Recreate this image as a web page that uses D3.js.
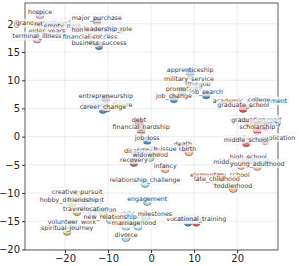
<!DOCTYPE html>
<html><head><meta charset="utf-8">
<script src="https://cdn.jsdelivr.net/npm/d3@7"></script>
<style>body{margin:0;background:#fff}svg{display:block}</style>
</head><body><svg id="c" width="299" height="266"></svg>
<script>
const labels = ["hospice","grandparenthood","retirement","empty_nest","elder_years","terminal_illness","death",
"major_purchase","inheritance","home_ownership","financial_success","debt","financial_hardship","health_issue","disability","recovery","business_failure",
"leadership_role","business_success","entrepreneurship","career_change","apprenticeship","first_job","promotion","job_search","job_change","job_loss","study_abroad","internship",
"military_service","creative_pursuit","hobby_development","traveling","vacation","volunteer_work","spiritual_journey",
"academic_achievement","college","graduate_school","graduation","university","scholarship","college_application","middle_school","high_school","elementary_school","vocational_training",
"birth","infancy","middle_childhood","young_adulthood","late_childhood","toddlerhood",
"widowhood","relationship_challenge","engagement","child_milestones","parenthood","marriage","divorce","friendship","relocation","new_relationship"];
const xs = [-25.8,-25.1,-23.3,-20.7,-24.2,-26.5,7.4,
-12.6,-14.2,-12.3,-14.2,-2.8,-2.3,1.4,-3.0,-4.0,-10.2,
-10.0,-12.1,-10.5,-11.2,9.1,10.9,7.2,12.8,5.3,-0.9,25.3,8.6,
8.8,-17.2,-18.4,-17.2,-11.2,-18.4,-19.5,
23.0,25.1,21.4,22.6,26.6,24.7,26.5,22.1,22.6,16.0,10.5,
8.8,3.3,20.9,24.7,15.3,19.1,
-0.2,-1.4,-0.9,-1.2,-3.0,-5.8,-5.8,-15.8,-13.5,-9.5];
const ys = [21.6,19.6,19.5,19.1,18.2,17.3,-1.9,
20.5,18.8,18.4,17.2,2.5,1.1,-2.7,-3.0,-4.6,5.1,
18.6,16.1,6.7,4.8,11.3,8.8,8.0,7.4,6.7,-0.7,2.5,-15.2,
9.7,-10.3,-11.7,-13.3,-13.5,-15.6,-16.8,
5.8,6.0,5.0,2.5,1.8,1.1,-0.7,-1.1,-4.2,-7.3,-15.2,
-2.7,-5.7,-5.1,-5.3,-8.1,-9.2,
-3.7,-8.3,-11.5,-14.3,-15.9,-15.9,-17.9,-11.7,-13.3,-14.7];
const groups = ["end","end","end","end","end","end","end",
"fin","fin","fin","fin","fin","fin","fin","fin","fin","fin",
"career","career","career","career","career","career","career","career","career","career","career","career",
"leisure","leisure","leisure","leisure","leisure","leisure","leisure",
"edu","edu","edu","edu","edu","edu","edu","edu","edu","edu","edu",
"dev","dev","dev","dev","dev","dev",
"rel","rel","rel","rel","rel","rel","rel","rel","rel","rel"];
const groupNames = ["end","fin","career","leisure","edu","dev","rel"];
const groupColors = ["#f1a9d0","#94635a","#2f7db8","#c6c42a","#db3a3b","#fdb775","#9fdbe6"];
const xTicks = [-20,-10,0,10,20];
const yTicks = [-20,-15,-10,-5,0,5,10,15,20];

const svg = d3.select("#c");
const L=25,R=278,T=3,B=250;
const x = d3.scaleLinear().domain([-29.3,29.5]).range([L,R]);
const y = d3.scaleLinear().domain([-20.1,23.7]).range([B,T]);
const color = d3.scaleOrdinal().domain(groupNames).range(groupColors);

const g = svg.append("g");
g.selectAll(".gx").data(xTicks).join("line").attr("x1",d=>x(d)).attr("x2",d=>x(d)).attr("y1",T).attr("y2",B)
 .attr("stroke","#e6e6e6").attr("stroke-width",0.8);
g.selectAll(".gy").data(yTicks).join("line").attr("y1",d=>y(d)).attr("y2",d=>y(d)).attr("x1",L).attr("x2",R)
 .attr("stroke","#e6e6e6").attr("stroke-width",0.8);

const fmt = d=> d<0 ? "\u2212"+Math.abs(d) : ""+d;
const xa = svg.append("g").attr("transform",`translate(0,${B})`).call(d3.axisBottom(x).tickValues(xTicks).tickFormat(fmt).tickSize(3).tickPadding(2));
const ya = svg.append("g").attr("transform",`translate(${L},0)`).call(d3.axisLeft(y).tickValues(yTicks).tickFormat(fmt).tickSize(3).tickPadding(2));
[xa,ya].forEach(a=>{a.selectAll("text").attr("font-family","DejaVu Sans").attr("font-size",10).attr("fill","#222");
 a.select(".domain").remove(); a.selectAll("line").attr("stroke","#333");});
svg.append("rect").attr("x",L).attr("y",T).attr("width",R-L).attr("height",B-T).attr("fill","none").attr("stroke","#333").attr("stroke-width",0.8);

const data = labels.map((l,i)=>({l,x:xs[i],y:ys[i],g:groups[i]}));
svg.append("g").selectAll("circle").data(data).join("circle")
 .attr("cx",d=>x(d.x)).attr("cy",d=>y(d.y)).attr("r",4)
 .attr("fill",d=>color(d.g)).attr("fill-opacity",0.9).attr("stroke","#555").attr("stroke-width",0.6);

const lg = svg.append("g");
data.forEach(d=>{
  const gg = lg.append("g");
  const t = gg.append("text").attr("x",x(d.x)).attr("y",y(d.y)-1).attr("text-anchor","middle")
   .attr("font-family","DejaVu Sans").attr("font-size",6.3).attr("fill","#3a3a3a").text(d.l);
  const bb = t.node().getBBox();
  gg.insert("rect","text").attr("x",bb.x-1).attr("y",bb.y-0.3).attr("width",bb.width+2).attr("height",bb.height+0.6)
   .attr("rx",1).attr("fill","#fff").attr("fill-opacity",0.7).attr("stroke","#ddd").attr("stroke-width",0.3);
});
</script></body></html>
